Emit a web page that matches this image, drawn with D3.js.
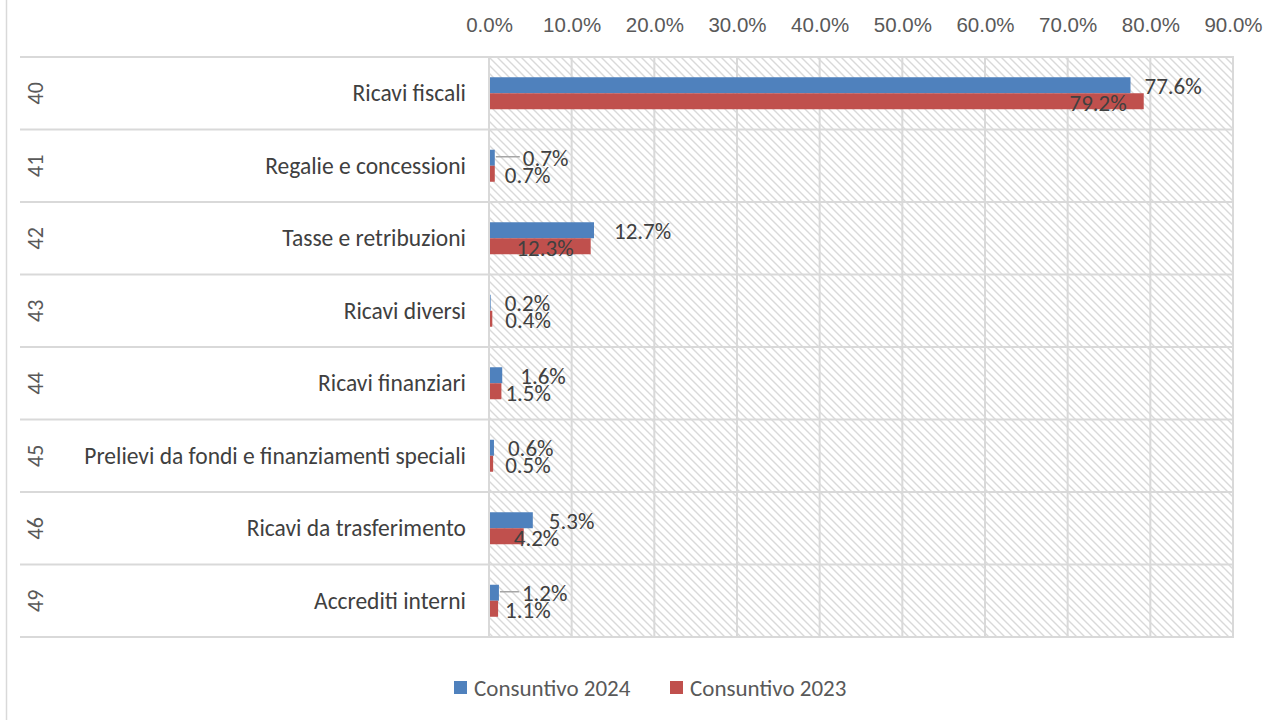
<!DOCTYPE html>
<meta charset="utf-8">
<style>
body { margin: 0; background: #fff; font-family: Carlito, Lato, sans-serif; }
.tick-label { fill: #595959; font-size: 20.5px; }
.cat-label { fill: #404040; font-size: 23.5px; }
.code-label { fill: #595959; font-size: 22px; }
.data-label { fill: #404040; font-size: 23px; }
.legend text { fill: #595959; font-size: 23px; }
</style>
<body>
<script src="https://d3js.org/d3.v7.min.js"></script>
<script>

// data
var codes = ["40", "41", "42", "43", "44", "45", "46", "49"];
var categories = ["Ricavi fiscali", "Regalie e concessioni", "Tasse e retribuzioni", "Ricavi diversi",
  "Ricavi finanziari", "Prelievi da fondi e finanziamenti speciali", "Ricavi da trasferimento", "Accrediti interni"];
var cons2024 = [77.6, 0.7, 12.7, 0.2, 1.6, 0.6, 5.3, 1.2];
var cons2023 = [79.2, 0.7, 12.3, 0.4, 1.5, 0.5, 4.2, 1.1];
var tickValues = [0, 10, 20, 30, 40, 50, 60, 70, 80, 90];
var seriesNames = ["Consuntivo 2024", "Consuntivo 2023"];

// label nudges (px from bar end), the way the labels were dragged in the original;
// negative 2023 nudges are inside-end labels (anchored at their right edge)
var nudge2024 = [14, 28, 20, 14, 18, 14, 16, 23];
var nudge2023 = [-17, 10, -17, 13, 4, 12, -10, 7];
var inside2023 = [true, false, true, false, false, false, false, false];
var leader2024 = [false, true, false, false, false, false, false, true];

var W = 1273, H = 720;
var colors = ["#4f81bd", "#c0504d"];
var grid = "#d9d9d9";

var svg = d3.select("body").append("svg")
  .attr("width", W)
  .attr("height", H);

var defs = svg.append("defs");
var pat = defs.append("pattern")
  .attr("id", "hatch")
  .attr("patternUnits", "userSpaceOnUse")
  .attr("width", 8)
  .attr("height", 8);
pat.append("path")
  .attr("d", "M-2,-2 L10,10 M-2,6 L2,10 M6,-2 L10,2")
  .attr("stroke", "#d9d9d9")
  .attr("stroke-width", 1.4);

// chart frame (only left side is visible)
svg.append("line")
  .attr("x1", 6.5).attr("x2", 6.5)
  .attr("y1", 0).attr("y2", H)
  .attr("stroke", grid).attr("stroke-width", 1.5);

var x = d3.scaleLinear().domain([0, 90]).range([489, 1233]);
var y = d3.scaleBand().domain(categories).range([57, 637]);
var bw = 16;

// plot background
svg.append("rect")
  .attr("x", x(0)).attr("y", y.range()[0])
  .attr("width", x(90) - x(0))
  .attr("height", y.range()[1] - y.range()[0])
  .attr("fill", "url(#hatch)");

// vertical grid
svg.append("g").selectAll("line")
  .data(tickValues)
  .join("line")
  .attr("x1", d => x(d)).attr("x2", d => x(d))
  .attr("y1", y.range()[0]).attr("y2", y.range()[1])
  .attr("stroke", grid).attr("stroke-width", 2);

// row separators, run across the label area too
var bounds = categories.map(c => y(c)).concat([y.range()[1]]);
svg.append("g").selectAll("line")
  .data(bounds)
  .join("line")
  .attr("x1", 20).attr("x2", x(90) + 1)
  .attr("y1", d => d).attr("y2", d => d)
  .attr("stroke", grid).attr("stroke-width", 2);

// top axis labels
var xAxis = d3.axisTop(x).tickValues(tickValues).tickSize(0).tickFormat(d => d.toFixed(1) + "%");
var ax = svg.append("g").attr("transform", "translate(0,35)").call(xAxis);
ax.select(".domain").remove();
ax.selectAll("text").attr("class", "tick-label").attr("font-family", null).attr("font-size", null).attr("fill", null);

// category labels
svg.append("g").selectAll("text")
  .data(categories)
  .join("text")
  .attr("class", "cat-label")
  .attr("x", 466)
  .attr("y", d => y(d) + y.bandwidth() / 2)
  .attr("dy", "0.35em")
  .attr("text-anchor", "end")
  .text(d => d);

// group codes, rotated to read bottom-up
svg.append("g").selectAll("text")
  .data(codes)
  .join("text")
  .attr("class", "code-label")
  .attr("transform", (d, i) => "translate(35," + (y(categories[i]) + y.bandwidth() / 2) + ") rotate(-90)")
  .attr("text-anchor", "middle")
  .attr("dy", "0.35em")
  .text(d => d);

var rows = categories.map((c, i) => ({ cat: c, v: [cons2024[i], cons2023[i]], i: i }));

var g = svg.append("g").selectAll("g")
  .data(rows)
  .join("g")
  .attr("transform", d => "translate(0," + (y(d.cat) + y.bandwidth() / 2) + ")");

// bars
g.selectAll("rect")
  .data(d => d.v)
  .join("rect")
  .attr("x", x(0) + 1)
  .attr("y", (d, j) => j === 0 ? -bw : 0)
  .attr("width", d => x(d) - x(0) - 1)
  .attr("height", bw)
  .attr("fill", (d, j) => colors[j]);

// leader lines
g.filter(d => leader2024[d.i])
  .append("line")
  .attr("x1", d => x(d.v[0]) + 1)
  .attr("x2", d => x(d.v[0]) + nudge2024[d.i] - 3)
  .attr("y1", -bw / 2 - 1)
  .attr("y2", -bw / 2 - 1)
  .attr("stroke", "#a6a6a6")
  .attr("stroke-width", 1.5);

// data labels
g.append("text")
  .attr("class", "data-label")
  .attr("x", d => x(d.v[0]) + nudge2024[d.i])
  .attr("y", -bw / 2 + 0.5)
  .attr("dy", "0.35em")
  .text(d => d.v[0].toFixed(1) + "%");

g.append("text")
  .attr("class", "data-label")
  .attr("x", d => x(d.v[1]) + nudge2023[d.i])
  .attr("y", bw / 2 + 1.5)
  .attr("dy", "0.35em")
  .attr("text-anchor", d => inside2023[d.i] ? "end" : "start")
  .text(d => d.v[1].toFixed(1) + "%");

// legend
var legend = svg.append("g").attr("class", "legend");
var lx = [454, 670];
seriesNames.forEach(function(s, i) {
  legend.append("rect")
    .attr("x", lx[i]).attr("y", 681)
    .attr("width", 13).attr("height", 13)
    .attr("fill", colors[i]);
  legend.append("text")
    .attr("x", lx[i] + 20).attr("y", 688)
    .attr("dy", "0.35em")
    .text(s);
});

</script>
</body>
